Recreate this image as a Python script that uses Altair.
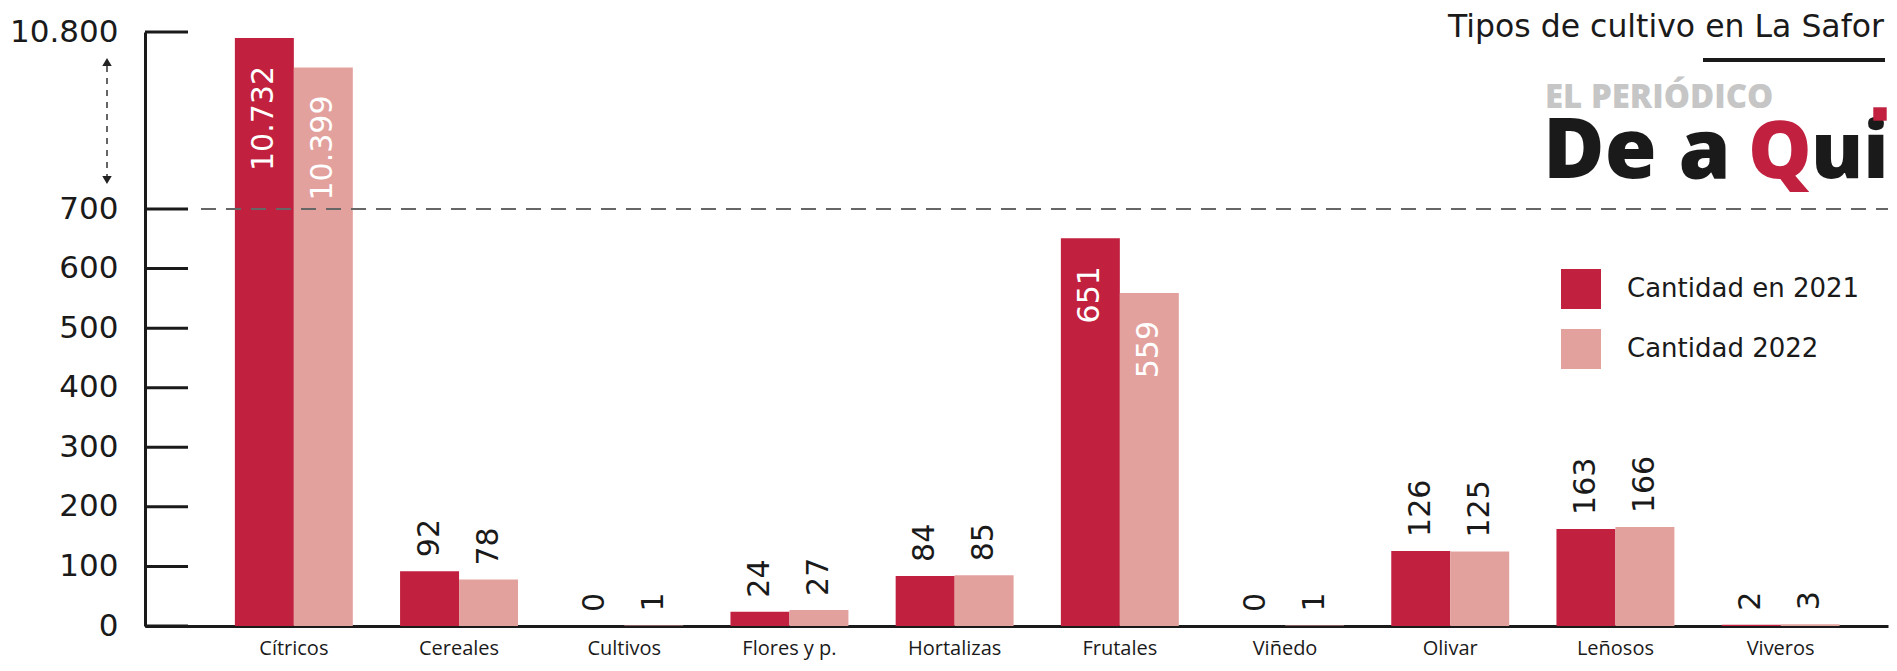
import altair as alt
import pandas as pd

# ---- data ----
categories = ["Cítricos", "Cereales", "Cultivos", "Flores y p.", "Hortalizas",
              "Frutales", "Viñedo", "Olivar", "Leñosos", "Viveros"]
values_2021 = [10732, 92, 0, 24, 84, 651, 0, 126, 163, 2]
values_2022 = [10399, 78, 1, 27, 85, 559, 1, 125, 166, 3]
series_names = ["Cantidad en 2021", "Cantidad 2022"]
tick_values = [0, 100, 200, 300, 400, 500, 600, 700, 10800]

RED = "#C1203E"
PINK = "#E3A19E"
INK = "#1a1a1a"
FONT = "Open Sans"
NUMFONT = "DejaVu Sans"

rows = []
for cat, a, b in zip(categories, values_2021, values_2022):
    for s, v in ((series_names[0], a), (series_names[1], b)):
        rows.append({"cat": cat, "series": s, "value": v,
                     "label": f"{v:,}".replace(",", "."),
                     "inside": v > 500})
df = pd.DataFrame(rows)
ticks_df = pd.DataFrame({"t": tick_values})

W, H = 1743, 594

# broken axis: 0-700 linear, then a compressed segment up to 10.800
yscale = alt.Scale(domain=[0, 700, 8800, 10800], range=[H, 177, 177, 0], nice=False, zero=False)
xscale = alt.Scale(domain=categories, paddingInner=0.286, paddingOuter=0.4185, align=0.65)

base = alt.Chart(df)

xenc = alt.X("cat:N", scale=xscale, sort=categories, title=None,
             axis=alt.Axis(labelFont=FONT, labelFontSize=20, labelColor=INK, labelPadding=12,
                           ticks=False, domainWidth=3, domainColor=INK, labelAngle=0))

bars = base.mark_bar().encode(
    x=xenc,
    xOffset=alt.XOffset("series:N", sort=series_names),
    y=alt.Y("value:Q", scale=yscale, stack=False, title=None,
            axis=alt.Axis(values=tick_values, labelExpr="replace(datum.label, ',', '.')",
                          labelFont=NUMFONT, labelFontSize=31, labelColor=INK, labelPadding=27,
                          ticks=False, grid=False, domainWidth=3, domainColor=INK)),
    color=alt.Color("series:N", scale=alt.Scale(domain=series_names, range=[RED, PINK]),
                    legend=alt.Legend(title=None, orient="none", legendX=1416, legendY=237,
                                      symbolType="square", symbolSize=1600, symbolStrokeWidth=0,
                                      labelFont=NUMFONT, labelFontSize=26, labelColor=INK,
                                      labelLimit=600, labelOffset=26, rowPadding=20, padding=0)),
)

labels_above = base.transform_filter("!datum.inside").mark_text(
    angle=270, align="left", baseline="middle", dx=14, font=NUMFONT, fontSize=30, color=INK
).encode(
    x=alt.X("cat:N", scale=xscale, sort=categories),
    xOffset=alt.XOffset("series:N", sort=series_names),
    y=alt.Y("value:Q", scale=yscale),
    text="label:N",
)

labels_inside = base.transform_filter("datum.inside").mark_text(
    angle=270, align="right", baseline="middle", dx=-28, font=NUMFONT, fontSize=30, color="white"
).encode(
    x=alt.X("cat:N", scale=xscale, sort=categories),
    xOffset=alt.XOffset("series:N", sort=series_names),
    y=alt.Y("value:Q", scale=yscale),
    text="label:N",
)

tick_rules = alt.Chart(ticks_df).mark_rule(color=INK, strokeWidth=3).encode(
    x=alt.value(0), x2=alt.value(43),
    y=alt.Y("t:Q", scale=yscale),
)

dashed = alt.Chart(ticks_df).transform_filter("datum.t == 700").mark_rule(
    color="#666666", strokeWidth=2, strokeDash=[15, 10]
).encode(x=alt.value(56), x2=alt.value(W), y=alt.Y("t:Q", scale=yscale))

# decorations: break arrow, title, logo
one = alt.Chart(ticks_df).transform_filter("datum.t == 0")

arrow_line = one.mark_rule(color="#333333", strokeWidth=1.5, strokeDash=[6, 6]).encode(
    x=alt.value(-38), y=alt.value(34), y2=alt.value(144))
arrow_up = one.mark_point(shape="triangle-up", filled=True, color="#222222", size=90, opacity=1).encode(
    x=alt.value(-38), y=alt.value(30))
arrow_down = one.mark_point(shape="triangle-down", filled=True, color="#222222", size=90, opacity=1).encode(
    x=alt.value(-38), y=alt.value(148))

title = one.mark_text(text="Tipos de cultivo en La Safor", align="right", baseline="alphabetic",
                      font=NUMFONT, fontSize=31.5, color=INK).encode(x=alt.value(1739), y=alt.value(5))
underline = one.mark_rule(color=INK, strokeWidth=4).encode(
    x=alt.value(1558), x2=alt.value(1740), y=alt.value(28))
logo1 = one.mark_text(text="EL PERIÓDICO", align="left", baseline="alphabetic", font=FONT,
                      fontSize=33, fontWeight=800, color="#C6C6C6").encode(x=alt.value(1400), y=alt.value(76))
logo2 = one.mark_text(text="De a", align="left", baseline="alphabetic", font=FONT,
                      fontSize=84, fontWeight=800, color=INK).encode(x=alt.value(1398), y=alt.value(146))
logo3 = one.mark_text(text="Q", align="left", baseline="alphabetic", font=FONT,
                      fontSize=80, fontWeight=800, color=RED).encode(x=alt.value(1603), y=alt.value(146))
logo4 = one.mark_text(text="ui", align="left", baseline="alphabetic", font=FONT,
                      fontSize=78, fontWeight=800, color=INK).encode(x=alt.value(1666), y=alt.value(146))
logo_dot = one.mark_point(shape="square", filled=True, color=RED, size=180, opacity=1).encode(
    x=alt.value(1735), y=alt.value(82))

chart = alt.layer(
    bars, tick_rules, dashed, labels_above, labels_inside,
    arrow_line, arrow_up, arrow_down, title, underline, logo1, logo2, logo3, logo4, logo_dot
).properties(
    width=W, height=H,
    autosize=alt.AutoSizeParams(type="none"),
    padding={"left": 137, "top": 24, "right": 1, "bottom": 37},
    background="white",
).configure_view(stroke=None)

chart.save("out.html", embed_options={"renderer": "svg", "actions": False})
